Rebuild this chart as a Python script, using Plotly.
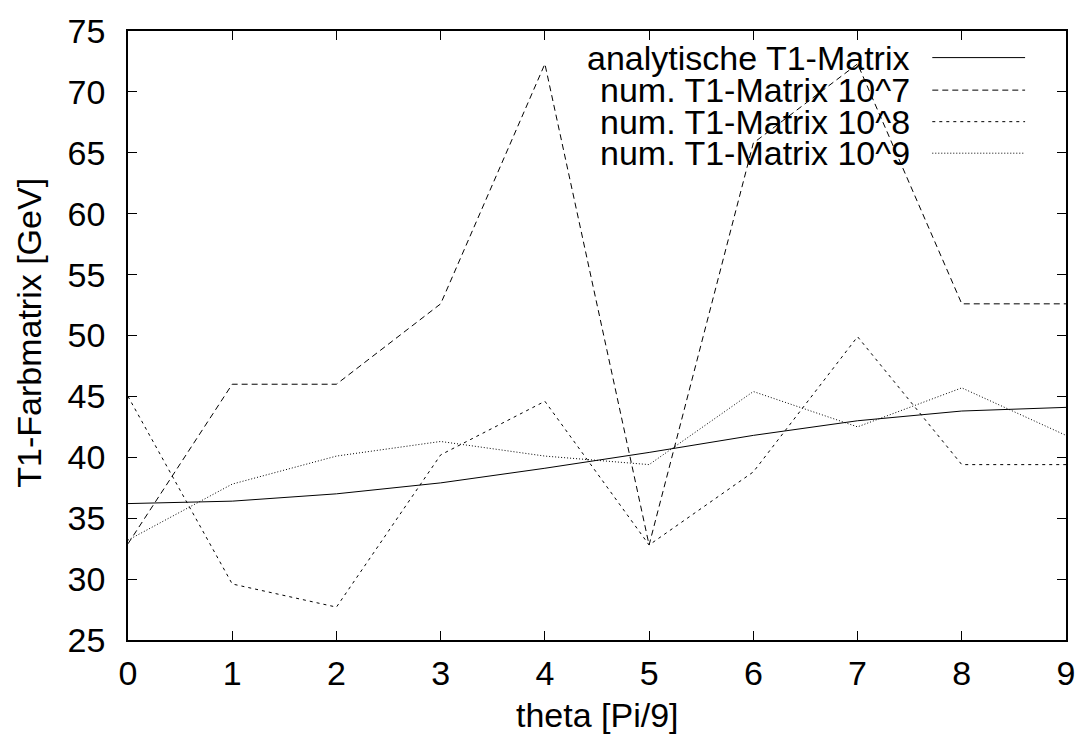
import plotly.graph_objects as go

theta = [0, 1, 2, 3, 4, 5, 6, 7, 8, 9]
analytic = [36.2, 36.4, 37.0, 37.9, 39.1, 40.4, 41.8, 43.0, 43.8, 44.1]
num_1e7 = [32.9, 46.0, 46.0, 52.6, 72.3, 32.8, 65.8, 72.3, 52.6, 52.6]
num_1e8 = [45.0, 29.6, 27.7, 40.2, 44.6, 32.8, 38.8, 49.9, 39.4, 39.4]
num_1e9 = [33.2, 37.8, 40.1, 41.3, 40.1, 39.4, 45.4, 42.5, 45.7, 41.8]

names = ["analytische T1-Matrix", "num. T1-Matrix 10^7",
         "num. T1-Matrix 10^8", "num. T1-Matrix 10^9"]
series = [analytic, num_1e7, num_1e8, num_1e9]
dashes = ["solid", "6px,4px", "3px,4px", "1px,2px"]

FONT = "Liberation Sans, Arial, sans-serif"
FS = 34

fig = go.Figure()
for n, s, d in zip(names, series, dashes):
    fig.add_trace(go.Scatter(x=theta, y=s, mode="lines", name=n,
                             line=dict(color="black", width=1, dash=d),
                             showlegend=False))

W, H = 1087, 742
L, R, T, B = 128, 19, 22, 102
pw, ph = W - L - R, H - T - B


def px(xp):
    return (xp - L) / pw


def py(yp):
    return (H - B - yp) / ph


# Custom legend (text left, sample right) as in the reference
rows_y = [49, 82, 114, 146]
for n, d, yy in zip(names, dashes, rows_y):
    fig.add_annotation(x=px(914), y=py(yy), xref="paper", yref="paper",
                       text=n, showarrow=False, xanchor="right", yanchor="middle",
                       font=dict(family=FONT, size=FS, color="black"))
    fig.add_shape(type="line", xref="paper", yref="paper",
                  x0=px(934), x1=px(1027), y0=py(yy), y1=py(yy),
                  line=dict(color="black", width=1, dash=d))

# Axis titles
fig.add_annotation(x=px(598), y=py(716), xref="paper", yref="paper",
                   text="theta [Pi/9]", showarrow=False, xanchor="center", yanchor="middle",
                   font=dict(family=FONT, size=FS, color="black"))
fig.add_annotation(x=px(28), y=py(328), xref="paper", yref="paper",
                   text="T1-Farbmatrix [GeV]", showarrow=False, textangle=-90,
                   xanchor="center", yanchor="middle",
                   font=dict(family=FONT, size=FS, color="black"))

axis_common = dict(showline=True, linecolor="black", linewidth=1.5, mirror="ticks",
                   ticks="inside", ticklen=9, tickcolor="black", tickwidth=1,
                   showgrid=False, zeroline=False,
                   tickfont=dict(family=FONT, size=FS, color="black"))

fig.update_xaxes(range=[0, 9], tickmode="array", tickvals=theta,
                 ticktext=[str(t) for t in theta], ticklabelstandoff=2,
                 **axis_common)
fig.update_yaxes(range=[25, 75], tickmode="array", tickvals=list(range(25, 80, 5)),
                 ticktext=[str(v) for v in range(25, 80, 5)], ticklabelstandoff=14,
                 **axis_common)

fig.update_layout(width=W, height=H, margin=dict(l=L, r=R, t=T, b=B),
                  plot_bgcolor="white", paper_bgcolor="white",
                  font=dict(family=FONT, size=FS, color="black"))

fig.write_html("out.html")
